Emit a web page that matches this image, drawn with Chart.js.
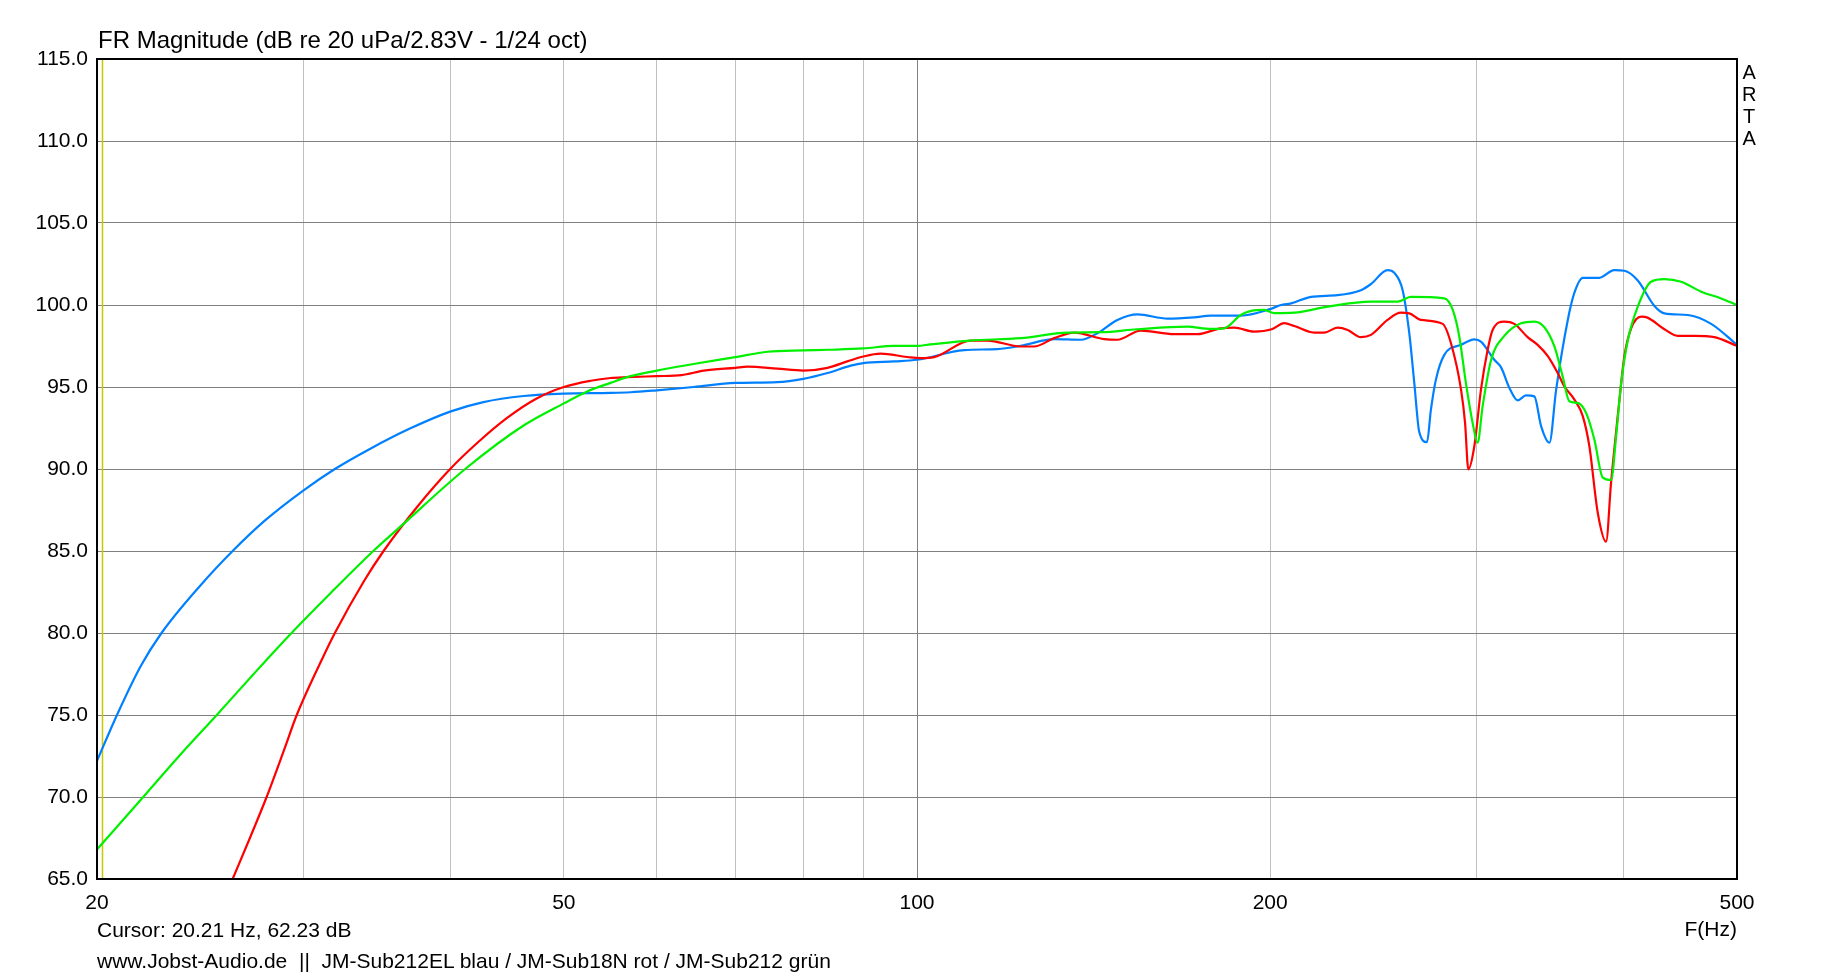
<!DOCTYPE html>
<html>
<head>
<meta charset="utf-8">
<title>FR Magnitude</title>
<script src="https://cdn.jsdelivr.net/npm/chart.js@4.4.1/dist/chart.umd.min.js"></script>
<style>
    html, body { margin: 0; padding: 0; background: #fff; }
    #wrap { position: relative; width: 1833px; height: 978px; font-family: "Liberation Sans", Arial, sans-serif; color: #000; }
    #wrap canvas { position: absolute; left: 0; top: 0; }
    .txt { position: absolute; font-size: 21px; line-height: 1; white-space: pre; }
    #title { font-size: 24px; }
    #arta { position: absolute; left: 1742px; top: 61px; font-size: 20px; line-height: 22px; text-align: center; }
</style>
</head>
<body>
<div id="wrap">
    <canvas id="frChart"></canvas>
    <div class="txt" id="title" style="left:98px; top:28px;">FR Magnitude (dB re 20 uPa/2.83V - 1/24 oct)</div>
    <div id="arta">A<br>R<br>T<br>A</div>
    <div class="txt" style="left:97px; top:919px;">Cursor: 20.21 Hz, 62.23 dB</div>
    <div class="txt" style="right:96px; top:918px;">F(Hz)</div>
    <div class="txt" style="left:97px; top:950px;">www.Jobst-Audio.de  ||  JM-Sub212EL blau / JM-Sub18N rot / JM-Sub212 grün</div>
</div>

<script>
// Axis ticks
// ----------------------------------------------
const gridFreqs  = [20, 30, 40, 50, 60, 70, 80, 90, 100, 200, 300, 400, 500];
const labelFreqs = [20, 50, 100, 200, 500];
const cursorFreq = 20.21;

// JM-Sub212EL (blau)
// ----------------------------------------------
const blueFreq = [20, 20.8, 21.8, 22.7, 24.5, 26.1, 27.8, 30, 31.9, 34.2, 37, 40, 42.7, 46.2, 50, 54.8, 57, 60, 64.5, 70, 76, 80, 83.9, 87.8, 90, 95.6, 100,
    109.7, 117.1, 122.6, 130.9, 137.9, 142.5, 148.2, 154.2, 163.5, 172.3, 178, 188.8, 200, 204.3, 208.4, 216.7, 228.3, 239, 243.8, 251.8, 255.2, 259.4,
    262.8, 265.4, 268, 272.1, 274.2, 276.9, 281.5, 290.9, 298.6, 302.5, 310.5, 314.6, 319.9, 325.1, 330.5, 335.9, 340.4, 346, 350.6, 358.7, 363.4,
    369.4, 381.6, 392.9, 400.8, 411.5, 425.2, 433.6, 454, 475.3, 500];
const blueDb = [72.2, 75.0, 78.0, 80.0, 82.9, 85.0, 86.85, 88.7, 90.0, 91.24, 92.48, 93.5, 94.08, 94.45, 94.6, 94.64, 94.68, 94.8, 95.0, 95.25, 95.3, 95.5, 95.85, 96.3, 96.46, 96.56, 96.66,
    97.25, 97.31, 97.51, 97.92, 97.88, 98.28, 99.09, 99.43, 99.17, 99.25, 99.35, 99.35, 99.75, 100.0, 100.1, 100.5, 100.6, 100.9, 101.28, 102.13, 101.96, 100.9,
    98.28, 95.24, 92.25, 91.64, 93.62, 95.45, 96.96, 97.57, 97.91, 97.77, 96.66, 96.21, 94.94, 94.19, 94.49, 94.43, 92.61, 91.6, 94.84, 99.09, 100.75,
    101.66, 101.66, 102.13, 102.09, 101.5, 99.94, 99.49, 99.39, 98.85, 97.57];

// JM-Sub18N (rot)
// ----------------------------------------------
const redFreq = [26.1, 27.0, 27.9, 28.9, 29.6, 31.2, 31.9, 33.8, 35.1, 37.5, 40, 42.2, 44.7, 47.4, 50, 52.7, 54.8, 56.6, 60, 63, 65.8, 70, 71.7, 76, 80,
    83.9, 87.2, 90, 93.1, 98.1, 100.7, 103.4, 111.1, 114.8, 122.6, 125.8, 130.9, 136.1, 144.4, 148.2, 155.1, 165.7, 173.4, 181.5, 186.4, 193.8, 200.6,
    205.6, 209.7, 218, 222.4, 228.3, 232.9, 239, 243.8, 251.8, 258.5, 262.8, 268.9, 280.6, 285.2, 290.9, 293.2, 295.1, 298.6, 302.5, 306.5, 309.5, 316.7,
    323, 331.5, 338.1, 344.8, 351.7, 356.3, 363.4, 369.4, 374.2, 380.4, 386.7, 390.5, 397, 400.8, 406.2, 414.3, 419.5, 433.6, 445, 460, 478.3, 500];
const redDb = [65.0, 67.5, 70.0, 72.95, 75.0, 78.6, 80.0, 83.2, 85.0, 87.7, 90.0, 91.6, 93.1, 94.3, 95.0, 95.38, 95.55, 95.6, 95.66, 95.72, 96.0, 96.17, 96.24, 96.12, 96.0,
    96.17, 96.56, 96.86, 97.03, 96.83, 96.76, 96.82, 97.83, 97.83, 97.47, 97.47, 97.98, 98.32, 97.92, 97.88, 98.44, 98.22, 98.22, 98.58, 98.62, 98.38, 98.52,
    98.89, 98.72, 98.32, 98.32, 98.62, 98.48, 98.04, 98.18, 99.09, 99.53, 99.49, 99.09, 98.85, 97.67, 94.84, 92.81, 89.98, 91.4, 94.84, 97.27, 98.48, 98.99,
    98.85, 98.04, 97.57, 96.9, 95.85, 95.04, 94.23, 93.22, 91.4, 87.35, 85.57, 89.17, 94.23, 96.86, 98.58, 99.29, 99.23, 98.52, 98.12, 98.12, 98.04, 97.51];

// JM-Sub212 (grün)
// ----------------------------------------------
const greenFreq = [20, 21.9, 23.5, 25.3, 27.2, 29.3, 31.7, 34.4, 36.3, 41.2, 46.2, 50, 52.4, 54.8, 56.6, 60, 64.5, 70, 74.6, 80, 84, 90, 95.6, 100, 102.7, 111,
    122.6, 134.4, 143.5, 154, 170, 178, 182.8, 188.8, 192.7, 197.7, 201.6, 209.7, 223.9, 243.8, 256.8, 263.6, 281.5, 286.2, 289.9, 293.7, 297.6, 300.5,
    303.5, 308.6, 316.7, 327.3, 335.9, 342.6, 349.4, 355.1, 359.8, 365.7, 371.8, 377.9, 384.2, 390.5, 394.4, 398.3, 403.6, 411.5, 422.4, 433.6, 448.1,
    466, 484.6, 500];
const greenDb = [66.8, 70.0, 72.5, 75.0, 77.5, 80.0, 82.5, 85.0, 86.5, 90.0, 92.65, 94.0, 94.74, 95.25, 95.6, 96.0, 96.4, 96.82, 97.15, 97.23, 97.27, 97.35, 97.51, 97.51, 97.6, 97.83,
    97.98, 98.32, 98.34, 98.52, 98.68, 98.54, 98.58, 99.39, 99.64, 99.7, 99.5, 99.53, 99.9, 100.2, 100.2, 100.49, 100.4, 99.7, 98.08, 95.24, 92.81, 91.6,
    93.83, 96.66, 98.12, 98.89, 98.99, 98.64, 97.47, 95.65, 94.13, 94.03, 93.42, 91.8, 89.47, 89.33, 92.0, 95.24, 97.87, 99.9, 101.42, 101.58, 101.42,
    100.81, 100.4, 100.0];


const toPoints = ( xs, ys ) => xs.map( ( x, i ) => ({ x: x, y: ys[i] }) );
const tickFont = { family: '"Liberation Sans", Arial, sans-serif', size: 21 };

// Cursor line and frame round the plot area
// ----------------------------------------------
const plotDecor = {
    id: 'plotDecor',
    beforeDatasetsDraw( chart ) {
        const { ctx, chartArea: a, scales } = chart;
        const x = Math.round( scales.x.getPixelForValue( cursorFreq ) ) + 0.5;
        ctx.save();
        ctx.strokeStyle = '#c8c800';
        ctx.lineWidth = 1.5;
        ctx.beginPath();
        ctx.moveTo( x, a.top );
        ctx.lineTo( x, a.bottom );
        ctx.stroke();
        ctx.restore();
    },
    afterDatasetsDraw( chart ) {
        const { ctx, chartArea: a } = chart;
        ctx.save();
        ctx.strokeStyle = '#000';
        ctx.lineWidth = 2;
        ctx.strokeRect( a.left, a.top, a.right - a.left, a.bottom - a.top );
        ctx.restore();
    }
};

const line = ( label, xs, ys, color ) => ({
    label: label,
    data: toPoints( xs, ys ),
    borderColor: color,
    backgroundColor: color,
    borderWidth: 2.2,
    pointRadius: 0,
    cubicInterpolationMode: 'monotone',
    fill: false
});

const frChart = new Chart( document.getElementById( 'frChart' ), {
    type: 'line',
    data: {
        datasets: [
            line( 'JM-Sub212 grün', greenFreq, greenDb, '#00f000' ),
            line( 'JM-Sub18N rot', redFreq, redDb, '#ff0000' ),
            line( 'JM-Sub212EL blau', blueFreq, blueDb, '#0080ff' )
        ]
    },
    options: {
        responsive: true,
        maintainAspectRatio: false,
        animation: false,
        layout: {
            padding: { left: 0, top: 59, right: 96, bottom: 58 }
        },
        plugins: {
            legend: { display: false },
            tooltip: { enabled: false },
            title: { display: false }
        },
        scales: {
            x: {
                type: 'logarithmic',
                min: 20,
                max: 500,
                afterBuildTicks: scale => { scale.ticks = gridFreqs.map( v => ({ value: v }) ); },
                afterFit: scale => { scale.height = 41; },
                border: { display: false },
                grid: {
                    drawTicks: false,
                    lineWidth: 1,
                    color: c => ( c.tick && c.tick.value === 100 ) ? '#808080' : '#c0c0c0'
                },
                ticks: {
                    autoSkip: false,
                    maxRotation: 0,
                    minRotation: 0,
                    padding: 12,
                    color: '#000',
                    font: tickFont,
                    callback: v => labelFreqs.includes( v ) ? String( v ) : ''
                }
            },
            y: {
                min: 65,
                max: 115,
                afterFit: scale => { scale.width = 97; },
                border: { display: false },
                grid: {
                    drawTicks: false,
                    lineWidth: 1,
                    color: '#808080'
                },
                ticks: {
                    stepSize: 5,
                    padding: 9,
                    color: '#000',
                    font: tickFont,
                    callback: v => v.toFixed( 1 )
                }
            }
        }
    },
    plugins: [ plotDecor ]
});
</script>
</body>
</html>
